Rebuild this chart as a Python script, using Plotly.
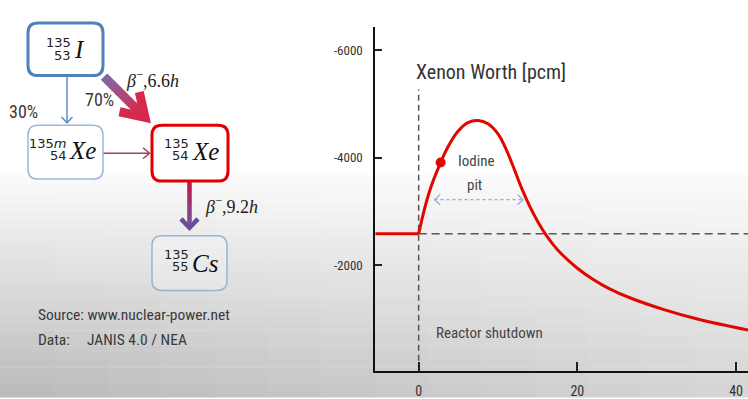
import plotly.graph_objects as go

# ---------------- data ----------------
hours_before = [-5.5, 0.0]
worth_before = [-2580, -2580]
hours_after = [0.0, 1.39, 2.77, 3.7, 4.96, 6.2, 7.48, 8.74, 10.0, 11.0, 12.0, 13.0,
               14.0, 15.0, 16.0, 17.0, 18.0, 20.0, 22.0, 24.0, 26.6, 30.8, 35.0, 41.5]
worth_after = [-2580, -3380, -3907, -4200, -4490, -4650, -4690, -4630, -4440, -4160,
               -3800, -3420, -3090, -2810, -2570, -2370, -2205, -1940, -1730, -1560,
               -1390, -1175, -1000, -789]
equilibrium_worth = -2580
marker_hours = [2.77]
marker_worth = [-3907]
pit_start, pit_end, pit_level = 2.0, 13.15, -3215
x_tick_vals = [0, 20, 40]
x_tick_text = ["0", "20", "40"]
y_tick_vals = [-6000, -4000, -2000]
y_tick_text = ["-6000", "-4000", "-2000"]

# ---------------- helpers ----------------
W, H = 748, 399
COND = "Roboto Condensed, Liberation Sans Narrow, Roboto, sans-serif"
SERIF = "Liberation Serif, DejaVu Serif, serif"
NUM = "DejaVu Sans, Noto Sans, sans-serif"


def px(x):
    return x / W


def py(y):
    return 1 - y / H


def pt(x, y):
    return f"{px(x):.5f},{py(y):.5f}"


shapes = []
annotations = []

# background gradient
rows, cols = 30, 14
y_start = 176
for i in range(rows):
    y0 = y_start + (H - y_start) * i / rows
    y1 = y_start + (H - y_start) * (i + 1) / rows
    t = (i + 0.5) / rows
    for j in range(cols):
        x0 = W * j / cols
        x1 = W * (j + 1) / cols
        xf = (j + 0.5) / cols
        v = int(round(251 - t * 38 - t * (1 - xf) * 28))
        shapes.append(dict(type="rect", xref="paper", yref="paper",
                           x0=px(x0), x1=px(x1) + 0.001, y0=py(y1) - 0.001, y1=py(y0),
                           fillcolor=f"rgb({v},{v},{v})", line=dict(width=0),
                           layer="below"))


def rrect(x0, y0, x1, y1, r, color, width, fill):
    path = (f"M{pt(x0 + r, y0)} L{pt(x1 - r, y0)} Q{pt(x1, y0)} {pt(x1, y0 + r)} "
            f"L{pt(x1, y1 - r)} Q{pt(x1, y1)} {pt(x1 - r, y1)} "
            f"L{pt(x0 + r, y1)} Q{pt(x0, y1)} {pt(x0, y1 - r)} "
            f"L{pt(x0, y0 + r)} Q{pt(x0, y0)} {pt(x0 + r, y0)} Z")
    shapes.append(dict(type="path", xref="paper", yref="paper", path=path,
                       line=dict(color=color, width=width), fillcolor=fill))


def seg(x0, y0, x1, y1, color, width, dash="solid"):
    shapes.append(dict(type="line", xref="paper", yref="paper",
                       x0=px(x0), y0=py(y0), x1=px(x1), y1=py(y1),
                       line=dict(color=color, width=width, dash=dash)))


def chevron(p1, v, p2, color, width):
    path = f"M{pt(*p1)} L{pt(*v)} L{pt(*p2)}"
    shapes.append(dict(type="path", xref="paper", yref="paper", path=path,
                       line=dict(color=color, width=width),
                       fillcolor="rgba(0,0,0,0)"))


def grad_shaft(x0, y0, x1, y1, c0, c1, width, n=10):
    for k in range(n):
        a = k / n
        b = (k + 1) / n
        m = (k + 0.5) / n
        c = tuple(int(round(c0[q] + (c1[q] - c0[q]) * m)) for q in range(3))
        seg(x0 + (x1 - x0) * a, y0 + (y1 - y0) * a,
            x0 + (x1 - x0) * b + (x1 - x0) * 0.01, y0 + (y1 - y0) * b + (y1 - y0) * 0.01,
            f"rgb{c}", width)


def label(x, y, text, size, family, color="#333", xanchor="center"):
    annotations.append(dict(xref="paper", yref="paper", x=px(x), y=py(y),
                            text=text, showarrow=False, xanchor=xanchor,
                            yanchor="middle",
                            font=dict(size=size, family=family, color=color)))


# ---------------- arrows (diagram) ----------------
seg(67, 77, 67, 123, "#5b8cd0", 1.5)
chevron((61.5, 117.5), (67, 123.5), (72.5, 117.5), "#5b8cd0", 1.5)
seg(103, 154, 149, 154, "#a0405e", 1.5)
chevron((143, 148.5), (149.5, 154), (143, 159.5), "#a0405e", 1.5)
grad_shaft(104, 77, 140, 113, (125, 105, 170), (212, 40, 78), 9)
chevron((119.5, 112.3), (145, 118), (139.3, 92.5), "#d62a4c", 9)
grad_shaft(189.5, 182, 189.5, 226, (200, 20, 60), (112, 80, 160), 4.5)
chevron((181, 220), (189.5, 229), (198, 220), "#6a4c9c", 4.5)

# ---------------- boxes ----------------
rrect(28, 23, 103, 76, 10, "#4f81bd", 3, "white")
rrect(28, 126, 103, 180, 10, "#9ab8dd", 1.5, "white")
rrect(152, 126, 228, 182, 10, "#e00000", 3, "white")
rrect(152, 237, 227, 292, 10, "#9ab3d3", 1.5, "rgba(255,255,255,0.25)")

# nuclide labels
label(73, 42.5, "135", 13, NUM, "#222", "right")
label(73, 55.5, "53", 13, NUM, "#222", "right")
label(72, 50, "<i>I</i>", 25, SERIF, "#111", "left")

label(68.5, 144, "135<i>m</i>", 13, NUM, "#222", "right")
label(68.5, 156, "54", 13, NUM, "#222", "right")
label(67, 151, "<i>Xe</i>", 25, SERIF, "#111", "left")

label(191, 144.5, "135", 13, NUM, "#222", "right")
label(191, 156.5, "54", 13, NUM, "#222", "right")
label(190, 152.5, "<i>Xe</i>", 25, SERIF, "#111", "left")

label(191, 256, "135", 13, NUM, "#222", "right")
label(191, 267.5, "55", 13, NUM, "#222", "right")
label(190, 264.5, "<i>Cs</i>", 25, SERIF, "#111", "left")

# diagram texts
label(23, 112.5, "30%", 18, COND, "#3a3a3a")
label(99, 100, "70%", 18, COND, "#3a3a3a")
label(152, 80, "<i>β</i><sup>−</sup>,6.6<i>h</i>", 18, SERIF, "#222")
label(231, 207, "<i>β</i><sup>−</sup>,9.2<i>h</i>", 18, SERIF, "#222")
label(36, 317, "Source: www.nuclear-power.net", 15.5, COND, "#3a3a3a", "left")
label(36, 342, "Data:", 15.5, COND, "#3a3a3a", "left")
label(85, 342, "JANIS 4.0 / NEA", 15.5, COND, "#3a3a3a", "left")

# ---------------- chart ----------------
fig = go.Figure()
fig.add_trace(go.Scatter(x=hours_before, y=worth_before, mode="lines",
                         line=dict(color="#e10600", width=3), hoverinfo="skip"))
fig.add_trace(go.Scatter(x=hours_after, y=worth_after, mode="lines",
                         line=dict(color="#e10600", width=3, shape="spline", smoothing=1.2),
                         hoverinfo="skip"))
fig.add_trace(go.Scatter(x=marker_hours, y=marker_worth, mode="markers",
                         marker=dict(color="#e10600", size=10), hoverinfo="skip"))

shapes.append(dict(type="line", xref="x", yref="y", x0=0, x1=0, y0=-30, y1=-5265,
                   line=dict(color="#555", width=1.5, dash="6px,4px"), layer="below"))
shapes.append(dict(type="line", xref="x", yref="y", x0=0, x1=41.5,
                   y0=equilibrium_worth, y1=equilibrium_worth,
                   line=dict(color="#555", width=1.5, dash="8px,5px"), layer="below"))
shapes.append(dict(type="line", xref="x", yref="y", x0=pit_start, x1=pit_end,
                   y0=pit_level, y1=pit_level,
                   line=dict(color="#8aaed6", width=1.2, dash="dot")))
shapes.append(dict(type="path", xref="x", yref="y",
                   path=f"M{pit_start + 0.7},{pit_level - 95} L{pit_start},{pit_level} L{pit_start + 0.7},{pit_level + 95}",
                   line=dict(color="#8aaed6", width=1.2)))
shapes.append(dict(type="path", xref="x", yref="y",
                   path=f"M{pit_end - 0.7},{pit_level - 95} L{pit_end},{pit_level} L{pit_end - 0.7},{pit_level + 95}",
                   line=dict(color="#8aaed6", width=1.2)))

annotations.append(dict(xref="x", yref="y", x=-0.63, y=-5598, text="Xenon Worth [pcm]",
                        showarrow=False, xanchor="left", yanchor="middle",
                        font=dict(size=20, family=COND, color="#333")))
annotations.append(dict(xref="x", yref="y", x=7.28, y=-3937, text="Iodine",
                        showarrow=False, xanchor="center", yanchor="middle",
                        font=dict(size=15, family=COND, color="#444")))
annotations.append(dict(xref="x", yref="y", x=7.06, y=-3485, text="pit",
                        showarrow=False, xanchor="center", yanchor="middle",
                        font=dict(size=15, family=COND, color="#444")))
annotations.append(dict(xref="x", yref="y", x=1.9, y=-728, text="Reactor shutdown",
                        showarrow=False, xanchor="left", yanchor="middle",
                        font=dict(size=15, family=COND, color="#444")))

fig.update_layout(
    width=W, height=H, margin=dict(l=0, r=0, t=0, b=0),
    paper_bgcolor="white", plot_bgcolor="rgba(0,0,0,0)",
    showlegend=False,
    shapes=shapes, annotations=annotations,
    xaxis=dict(domain=[375.4 / W, 1.0], range=[-5.45, 41.5],
               showgrid=False, zeroline=False,
               showline=True, linecolor="#111", linewidth=2,
               ticks="inside", ticklen=9, tickwidth=1.5, tickcolor="#222",
               tickvals=x_tick_vals, ticktext=x_tick_text,
               ticklabelstandoff=6,
               tickfont=dict(size=14, family=COND, color="#333")),
    yaxis=dict(domain=[1 - 372.7 / H, 1 - 26.7 / H], range=[-30, -6437],
               showgrid=False, zeroline=False,
               showline=True, linecolor="#111", linewidth=2,
               ticks="inside", ticklen=7, tickwidth=1.5, tickcolor="#222",
               tickvals=y_tick_vals, ticktext=y_tick_text,
               ticklabelstandoff=8,
               tickfont=dict(size=13, family=COND, color="#333")),
)

fig.write_html("out.html")
